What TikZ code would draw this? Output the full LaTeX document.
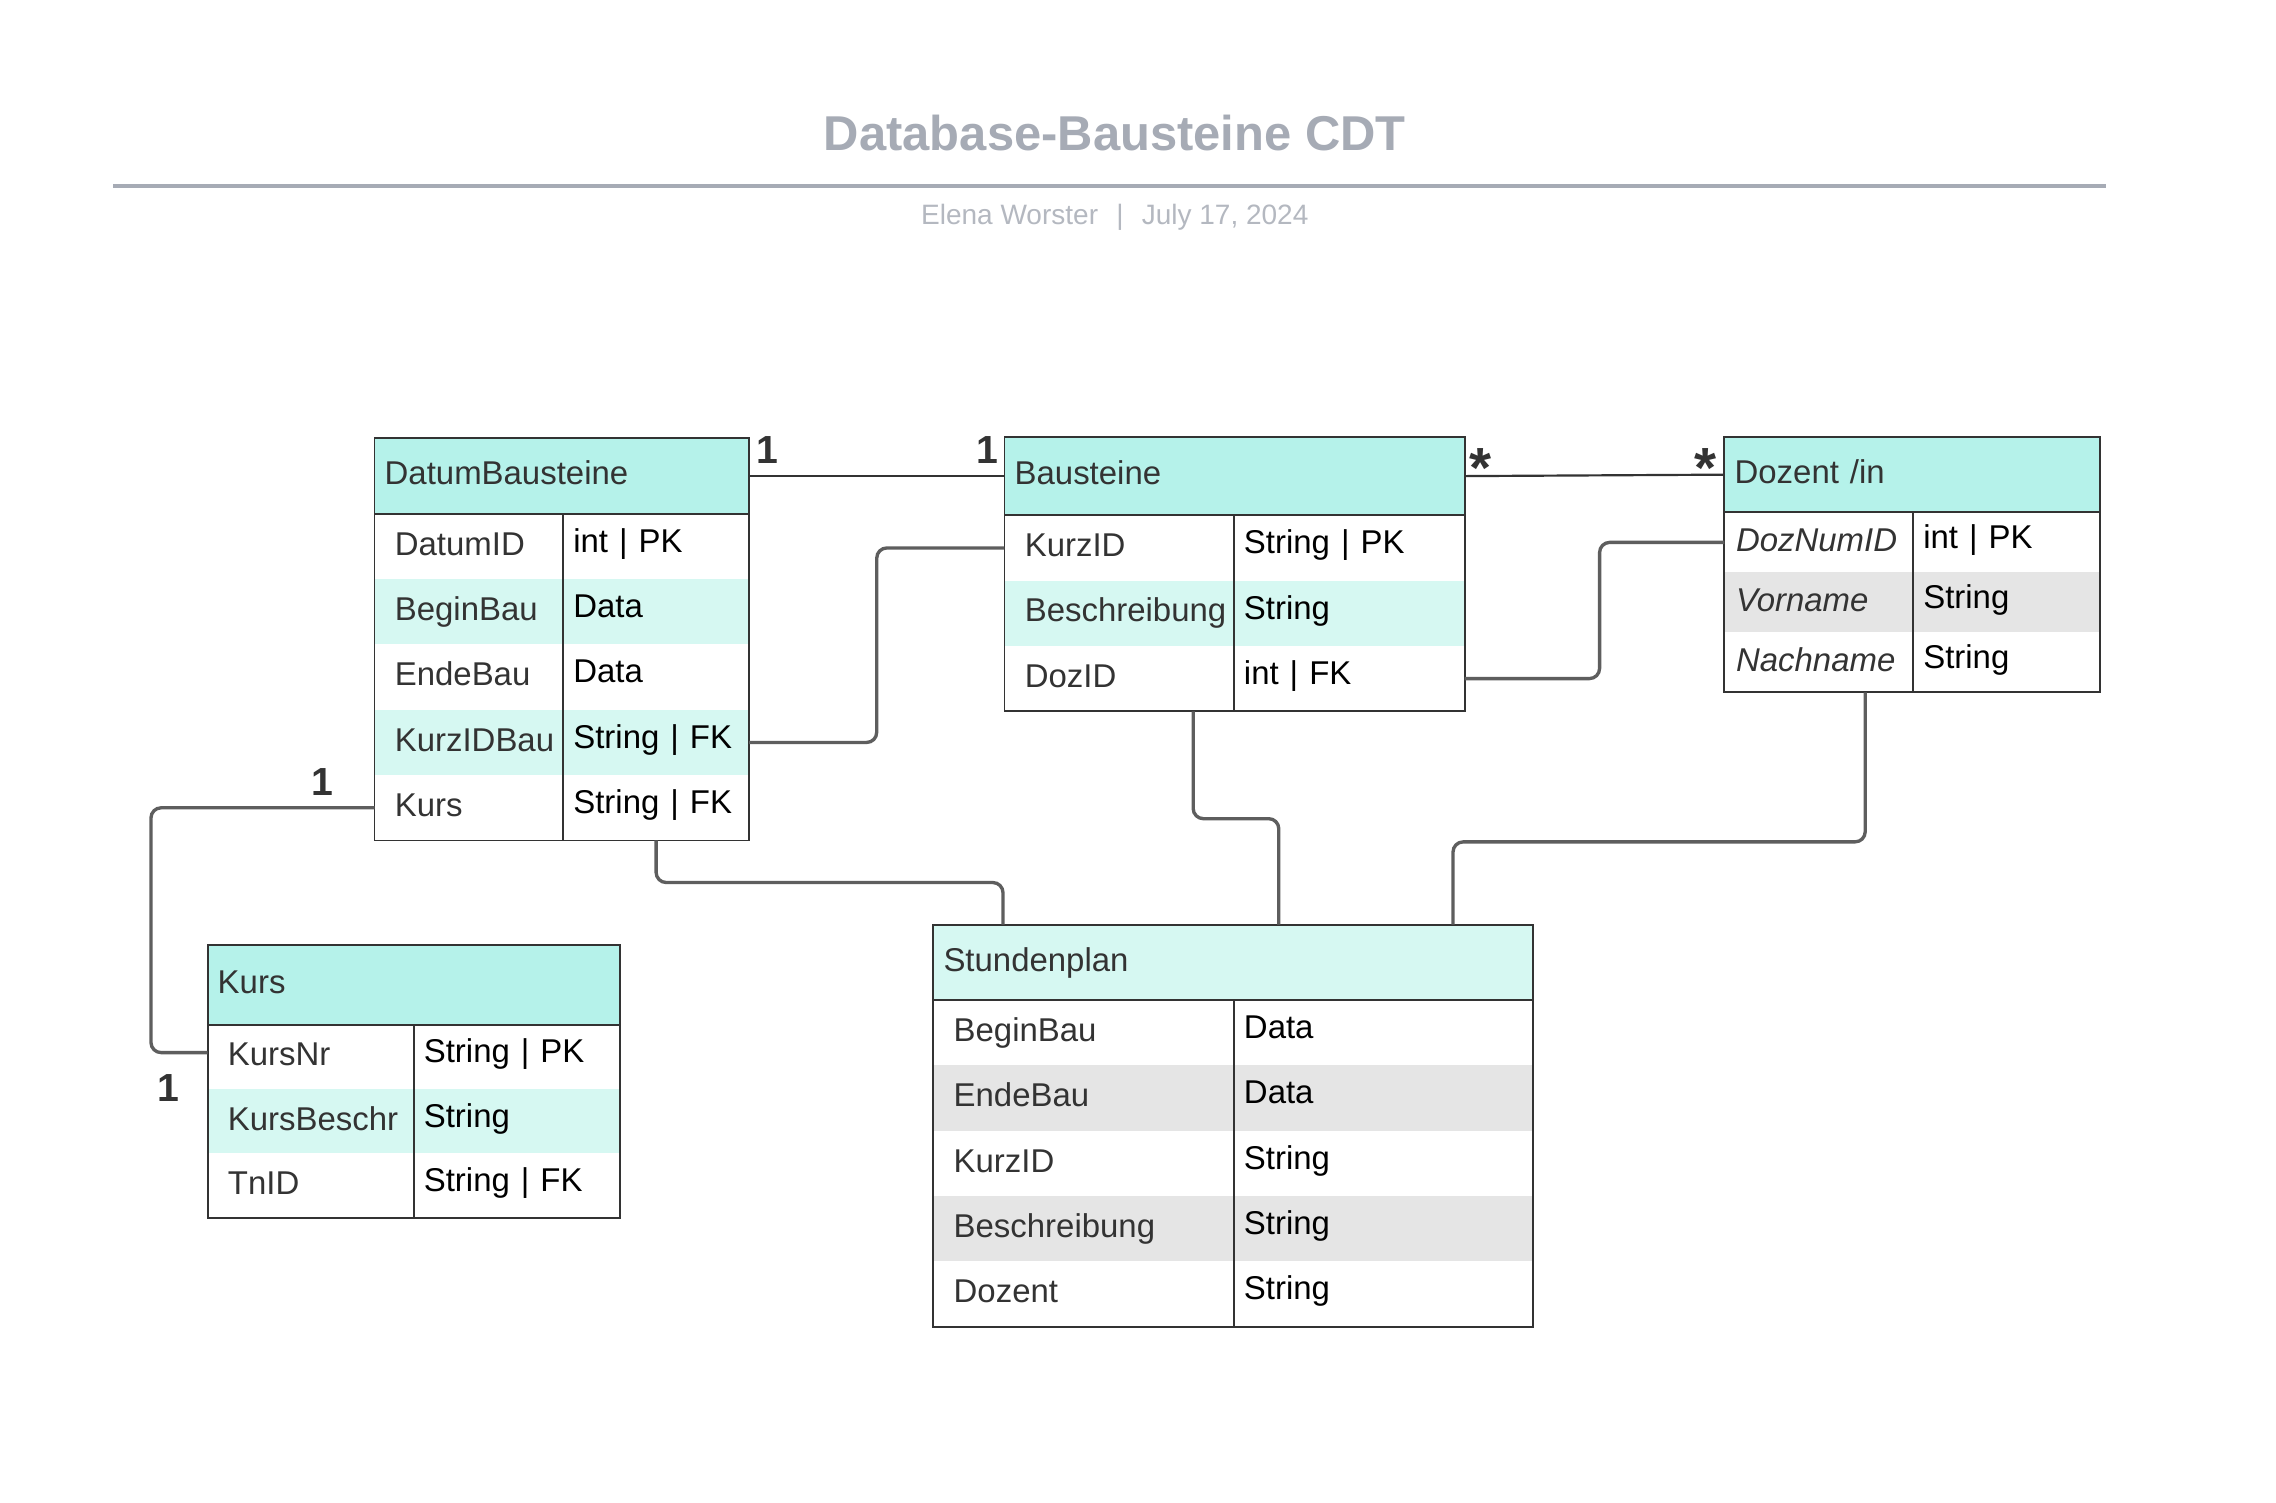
\documentclass[tikz,border=0pt]{standalone}
\usepackage{fontspec}
\setmainfont{Liberation Sans}
\usetikzlibrary{calc}

\definecolor{kopfgruen}{HTML}{B5F2EA}
\definecolor{zeilgruen}{HTML}{D6F8F2}
\definecolor{zeilgrau}{HTML}{E5E5E5}
\definecolor{rand}{HTML}{333333}
\definecolor{verb}{HTML}{5E5E5E}
\definecolor{titelgrau}{HTML}{A6ABB5}
\definecolor{untergrau}{HTML}{B4B8C0}

\begin{document}
\begin{tikzpicture}[
  x=1pt, y=-1pt,
  every node/.style={outer sep=0pt, inner ysep=0pt},
  kopfzelle/.style 2 args={anchor=north west, fill=kopfgruen, text width=#1, minimum height=#2,
    inner xsep=7pt, align=left, text=rand, text height=17pt, text depth=5pt,
    font=\fontsize{22.7}{26}\selectfont},
  linkszelle/.style 2 args={anchor=north west, text width=#1, minimum height=#2,
    inner xsep=14pt, align=left, text=rand, text height=17pt, text depth=5pt,
    font=\fontsize{22.7}{26}\selectfont},
  rechtszelle/.style 2 args={anchor=north west, text width=#1, minimum height=#2,
    inner xsep=7pt, align=left, text=black, text height=15pt, text depth=7pt,
    font=\fontsize{22.7}{26}\selectfont},
  rahmen/.style={draw=rand, line width=1.3pt},
  verbinder/.style={draw=verb, line width=2.3pt, rounded corners=7pt},
  mult/.style={anchor=base, text=rand, font=\bfseries\fontsize{27}{30}\selectfont},
  stern/.style={anchor=base, text=rand, font=\bfseries\fontsize{39}{42}\selectfont}
]
  \fill[white] (0,0) rectangle (1568,1035);

  % tiêu đề
  \node[anchor=base, text=titelgrau, font=\bfseries\fontsize{33.7}{38}\selectfont] (titel) at (768,104) {Database-Bausteine CDT};
  \draw[titelgrau, line width=3pt] (78,128) -- (1451,128);
  \node[anchor=base, text=untergrau, font=\fontsize{19.3}{22}\selectfont] (untertitel) at (768,155) {Elena Worster\hspace{0.65em}|\hspace{0.65em}July 17, 2024};

  % bảng DatumBausteine
  \node[kopfzelle={244pt}{52pt}] (db-h) at (258,302) {DatumBausteine};
  \node[linkszelle={102pt}{45pt}] (db-1l) at (db-h.south west) {DatumID};
  \node[rechtszelle={114pt}{45pt}] (db-1r) at (db-1l.north east) {int | PK};
  \node[linkszelle={102pt}{45pt}, fill=zeilgruen] (db-2l) at (db-1l.south west) {BeginBau};
  \node[rechtszelle={114pt}{45pt}, fill=zeilgruen] (db-2r) at (db-2l.north east) {Data};
  \node[linkszelle={102pt}{45pt}] (db-3l) at (db-2l.south west) {EndeBau};
  \node[rechtszelle={114pt}{45pt}] (db-3r) at (db-3l.north east) {Data};
  \node[linkszelle={102pt}{45pt}, fill=zeilgruen] (db-4l) at (db-3l.south west) {KurzIDBau};
  \node[rechtszelle={114pt}{45pt}, fill=zeilgruen] (db-4r) at (db-4l.north east) {String | FK};
  \node[linkszelle={102pt}{45pt}] (db-5l) at (db-4l.south west) {Kurs};
  \node[rechtszelle={114pt}{45pt}] (db-5r) at (db-5l.north east) {String | FK};
  \draw[rahmen] (db-h.north west) rectangle (db-5r.south east);
  \draw[rahmen] (db-h.south west) -- (db-h.south east);
  \draw[rahmen] (db-1r.north west) -- (db-5r.south west);

  % bảng Bausteine
  \node[kopfzelle={303pt}{54pt}] (bs-h) at (692,301) {Bausteine};
  \node[linkszelle={130pt}{45pt}] (bs-1l) at (bs-h.south west) {KurzID};
  \node[rechtszelle={145pt}{45pt}] (bs-1r) at (bs-1l.north east) {String | PK};
  \node[linkszelle={130pt}{45pt}, fill=zeilgruen] (bs-2l) at (bs-1l.south west) {Beschreibung};
  \node[rechtszelle={145pt}{45pt}, fill=zeilgruen] (bs-2r) at (bs-2l.north east) {String};
  \node[linkszelle={130pt}{45pt}] (bs-3l) at (bs-2l.south west) {DozID};
  \node[rechtszelle={145pt}{45pt}] (bs-3r) at (bs-3l.north east) {int | FK};
  \draw[rahmen] (bs-h.north west) rectangle (bs-3r.south east);
  \draw[rahmen] (bs-h.south west) -- (bs-h.south east);
  \draw[rahmen] (bs-1r.north west) -- (bs-3r.south west);

  % bảng Dozent /in
  \node[kopfzelle={245pt}{52pt}] (dz-h) at (1188,301) {Dozent /in};
  \node[linkszelle={114pt}{41.33pt}, inner xsep=8pt, font=\fontsize{22.7}{26}\selectfont\itshape] (dz-1l) at (dz-h.south west) {DozNumID};
  \node[rechtszelle={115pt}{41.33pt}] (dz-1r) at (dz-1l.north east) {int | PK};
  \node[linkszelle={114pt}{41.33pt}, inner xsep=8pt, font=\fontsize{22.7}{26}\selectfont\itshape, fill=zeilgrau] (dz-2l) at (dz-1l.south west) {Vorname};
  \node[rechtszelle={115pt}{41.33pt}, fill=zeilgrau] (dz-2r) at (dz-2l.north east) {String};
  \node[linkszelle={114pt}{41.33pt}, inner xsep=8pt, font=\fontsize{22.7}{26}\selectfont\itshape] (dz-3l) at (dz-2l.south west) {Nachname};
  \node[rechtszelle={115pt}{41.33pt}] (dz-3r) at (dz-3l.north east) {String};
  \draw[rahmen] (dz-h.north west) rectangle (dz-3r.south east);
  \draw[rahmen] (dz-h.south west) -- (dz-h.south east);
  \draw[rahmen] (dz-1r.north west) -- (dz-3r.south west);

  % bảng Kurs
  \node[kopfzelle={270pt}{55pt}] (ku-h) at (143,651) {Kurs};
  \node[linkszelle={114pt}{44.33pt}] (ku-1l) at (ku-h.south west) {KursNr};
  \node[rechtszelle={128pt}{44.33pt}] (ku-1r) at (ku-1l.north east) {String | PK};
  \node[linkszelle={114pt}{44.33pt}, fill=zeilgruen] (ku-2l) at (ku-1l.south west) {KursBeschr};
  \node[rechtszelle={128pt}{44.33pt}, fill=zeilgruen] (ku-2r) at (ku-2l.north east) {String};
  \node[linkszelle={114pt}{44.33pt}] (ku-3l) at (ku-2l.south west) {TnID};
  \node[rechtszelle={128pt}{44.33pt}] (ku-3r) at (ku-3l.north east) {String | FK};
  \draw[rahmen] (ku-h.north west) rectangle (ku-3r.south east);
  \draw[rahmen] (ku-h.south west) -- (ku-h.south east);
  \draw[rahmen] (ku-1r.north west) -- (ku-3r.south west);

  % bảng Stundenplan
  \node[kopfzelle={399pt}{52pt}, fill=zeilgruen] (sp-h) at (643,637) {Stundenplan};
  \node[linkszelle={179pt}{45pt}] (sp-1l) at (sp-h.south west) {BeginBau};
  \node[rechtszelle={192pt}{45pt}] (sp-1r) at (sp-1l.north east) {Data};
  \node[linkszelle={179pt}{45pt}, fill=zeilgrau] (sp-2l) at (sp-1l.south west) {EndeBau};
  \node[rechtszelle={192pt}{45pt}, fill=zeilgrau] (sp-2r) at (sp-2l.north east) {Data};
  \node[linkszelle={179pt}{45pt}] (sp-3l) at (sp-2l.south west) {KurzID};
  \node[rechtszelle={192pt}{45pt}] (sp-3r) at (sp-3l.north east) {String};
  \node[linkszelle={179pt}{45pt}, fill=zeilgrau] (sp-4l) at (sp-3l.south west) {Beschreibung};
  \node[rechtszelle={192pt}{45pt}, fill=zeilgrau] (sp-4r) at (sp-4l.north east) {String};
  \node[linkszelle={179pt}{45pt}] (sp-5l) at (sp-4l.south west) {Dozent};
  \node[rechtszelle={192pt}{45pt}] (sp-5r) at (sp-5l.north east) {String};
  \draw[rahmen] (sp-h.north west) rectangle (sp-5r.south east);
  \draw[rahmen] (sp-h.south west) -- (sp-h.south east);
  \draw[rahmen] (sp-1r.north west) -- (sp-5r.south west);

  % các đường nối
  \draw[draw=rand, line width=1.5pt] (db-h.east) -- (bs-h.west);
  \draw[draw=rand, line width=1.5pt] (bs-h.east) -- (dz-h.west);
  \draw[verbinder] (db-4r.east) -- ++(88,0) |- (bs-1l.west);
  \draw[verbinder] (bs-3r.east) -- ++(93,0) |- (dz-1l.west);
  \draw[verbinder] (db-5l.west) -- ++(-154,0) |- ($(ku-1l.west)+(0,-3)$);
  \draw[verbinder] (db-5r.south) -- ++(0,29) -| ($(sp-h.north west)+(48,0)$);
  \draw[verbinder] ($(bs-3l.south east)+(-28,0)$) -- ++(0,74) -| ($(sp-h.north west)+(238,0)$);
  \draw[verbinder] ($(dz-3l.south east)+(-33,0)$) -- ++(0,103) -| ($(sp-h.north west)+(358,0)$);

  % bội số
  \node[mult] (m-db) at (529,319) {1};
  \node[mult] (m-bs) at (680,319) {1};
  \node[stern] (s-bs) at (1020,336) {*};
  \node[stern] (s-dz) at (1175,336) {*};
  \node[mult] (m-db2) at (222,548) {1};
  \node[mult] (m-ku) at (116,759) {1};
\end{tikzpicture}
\end{document}
